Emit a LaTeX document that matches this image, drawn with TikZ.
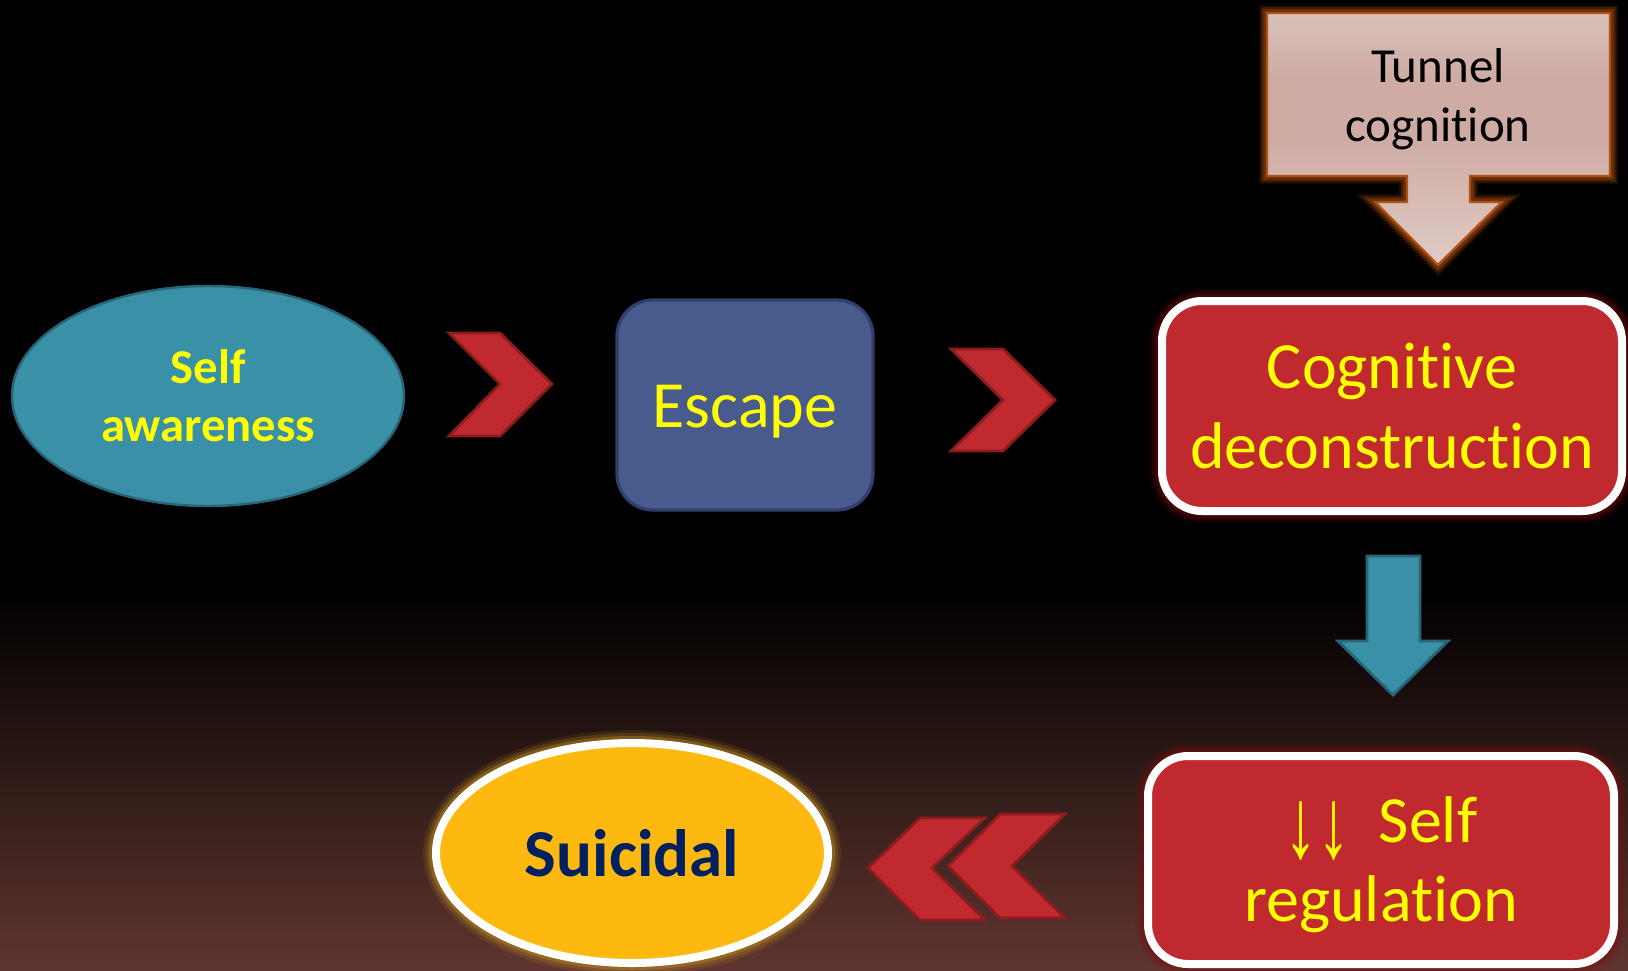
\documentclass[tikz,border=0pt]{standalone}
\usepackage{fontspec}
\setmainfont{Carlito}[Ligatures=NoCommon, RawFeature={-liga;-clig;-calt}]
\newfontfamily\arrowfont{Liberation Sans}
\usetikzlibrary{shapes.geometric}

\definecolor{bgbot}{RGB}{96,53,47}
\definecolor{tealfill}{RGB}{58,144,167}
\definecolor{tealedge}{RGB}{40,101,120}
\definecolor{escfill}{RGB}{73,90,140}
\definecolor{escedge}{RGB}{48,64,108}
\definecolor{boxred}{RGB}{192,41,45}
\definecolor{chevedge}{RGB}{140,28,30}
\definecolor{glowred}{RGB}{120,14,14}
\definecolor{textyellow}{RGB}{255,255,0}
\definecolor{gold}{RGB}{253,185,16}
\definecolor{glowgold}{RGB}{200,150,30}
\definecolor{navy}{RGB}{0,32,96}
\definecolor{calloutedge}{RGB}{175,80,20}
\definecolor{glowor}{RGB}{170,75,15}
\definecolor{calloutlight}{RGB}{240,231,229}
\definecolor{calloutmid}{RGB}{206,172,164}
\definecolor{callouttip}{RGB}{243,235,233}

\pgfdeclareverticalshading{tunnelshade}{100bp}{color(0bp)=(callouttip); color(50bp)=(calloutmid); color(62bp)=(calloutmid); color(100bp)=(calloutlight)}

\tikzset{
  bigtext/.style={font=\fontsize{33}{39.6}\selectfont, text=textyellow, align=center},
  glow/.style={preaction={draw=#1, line width=13pt, opacity=0.12},
    preaction={draw=#1, line width=10pt, opacity=0.2},
    preaction={draw=#1, line width=7pt, opacity=0.35}},
  softglow/.style={preaction={draw=#1, line width=8pt, opacity=0.15},
    preaction={draw=#1, line width=6pt, opacity=0.25},
    preaction={draw=#1, line width=4pt, opacity=0.4}},
  redbox/.style={rectangle, rounded corners=20pt, fill=boxred, draw=white, line width=4pt,
    minimum height=105pt, glow=glowred},
  chevron/.style={fill=boxred, draw=chevedge, line width=1.4pt, line join=miter},
  blockarrow/.style={fill=tealfill, draw=tealedge, line width=1.4pt}
}

\begin{document}
\begin{tikzpicture}[x=0.5pt, y=-0.5pt]
  % background
  \fill[black] (0,0) rectangle (1628,970);
  \shade[top color=black, bottom color=bgbot] (0,590) rectangle (1628,970);
  \useasboundingbox (0,0) rectangle (1628,970);

  % top row
  \node[ellipse, fill=tealfill, draw=tealedge, line width=1.2pt, minimum width=196pt, minimum height=110pt,
    font=\fontsize{24.3}{29}\selectfont\bfseries, text=textyellow, align=center]
    (awareness) at (208,396) {Self\\awareness};

  \node[rectangle, rounded corners=18pt, fill=escfill, draw=escedge, line width=1.6pt,
    minimum width=128pt, minimum height=105pt, bigtext] (escape) at (745,405)
    {\raisebox{-11pt}[0pt][0pt]{Escape}};

  \node[redbox, minimum width=230pt, bigtext] (cognitive) at (1392,406) {Cognitive\\deconstruction};

  % tunnel cognition callout
  \shadedraw[shading=tunnelshade, draw=calloutedge, line width=1.2pt, line join=miter, softglow=glowor]
    (1267,13) -- (1610,13) -- (1610,176) -- (1470,176) -- (1470,202) -- (1502,202)
    -- (1438,265) -- (1375,202) -- (1407,202) -- (1407,176) -- (1267,176) -- cycle;
  \node[font=\fontsize{24.5}{29.5}\selectfont, align=center, text=black] (tunnel) at (1438,99) {Tunnel\\cognition};

  % chevrons
  \draw[chevron] (449,333) -- (500,333) -- (552,384) -- (500,436) -- (449,436) -- (500,384) -- cycle;
  \draw[chevron] (951,349) -- (1003,349) -- (1055,400) -- (1003,451) -- (951,451) -- (1003,400) -- cycle;

  % down arrow
  \draw[blockarrow] (1367,556) -- (1420,556) -- (1420,641) -- (1448,641) -- (1393,695)
    -- (1338,641) -- (1367,641) -- cycle;

  % bottom row
  \node[redbox, minimum width=233pt, minimum height=104pt, bigtext] (regulation) at (1381,860)
    {\raisebox{-7.5pt}[\height][0pt]{\scalebox{1}[1.5]{\arrowfont ↓↓}}\kern14pt Self\\regulation};

  \draw[chevron] (948,866) -- (1000,814) -- (1065,814) -- (1012,866) -- (1065,918) -- (1000,918) -- cycle;
  \draw[chevron] (868,868) -- (920,818) -- (985,818) -- (932,868) -- (985,920) -- (920,920) -- cycle;

  \node[ellipse, fill=gold, draw=white, line width=4pt, minimum width=196pt, minimum height=110pt,
    glow=glowgold, font=\fontsize{33.5}{40}\selectfont\bfseries, text=navy] (suicidal) at (632,853) {Suicidal};
\end{tikzpicture}
\end{document}
